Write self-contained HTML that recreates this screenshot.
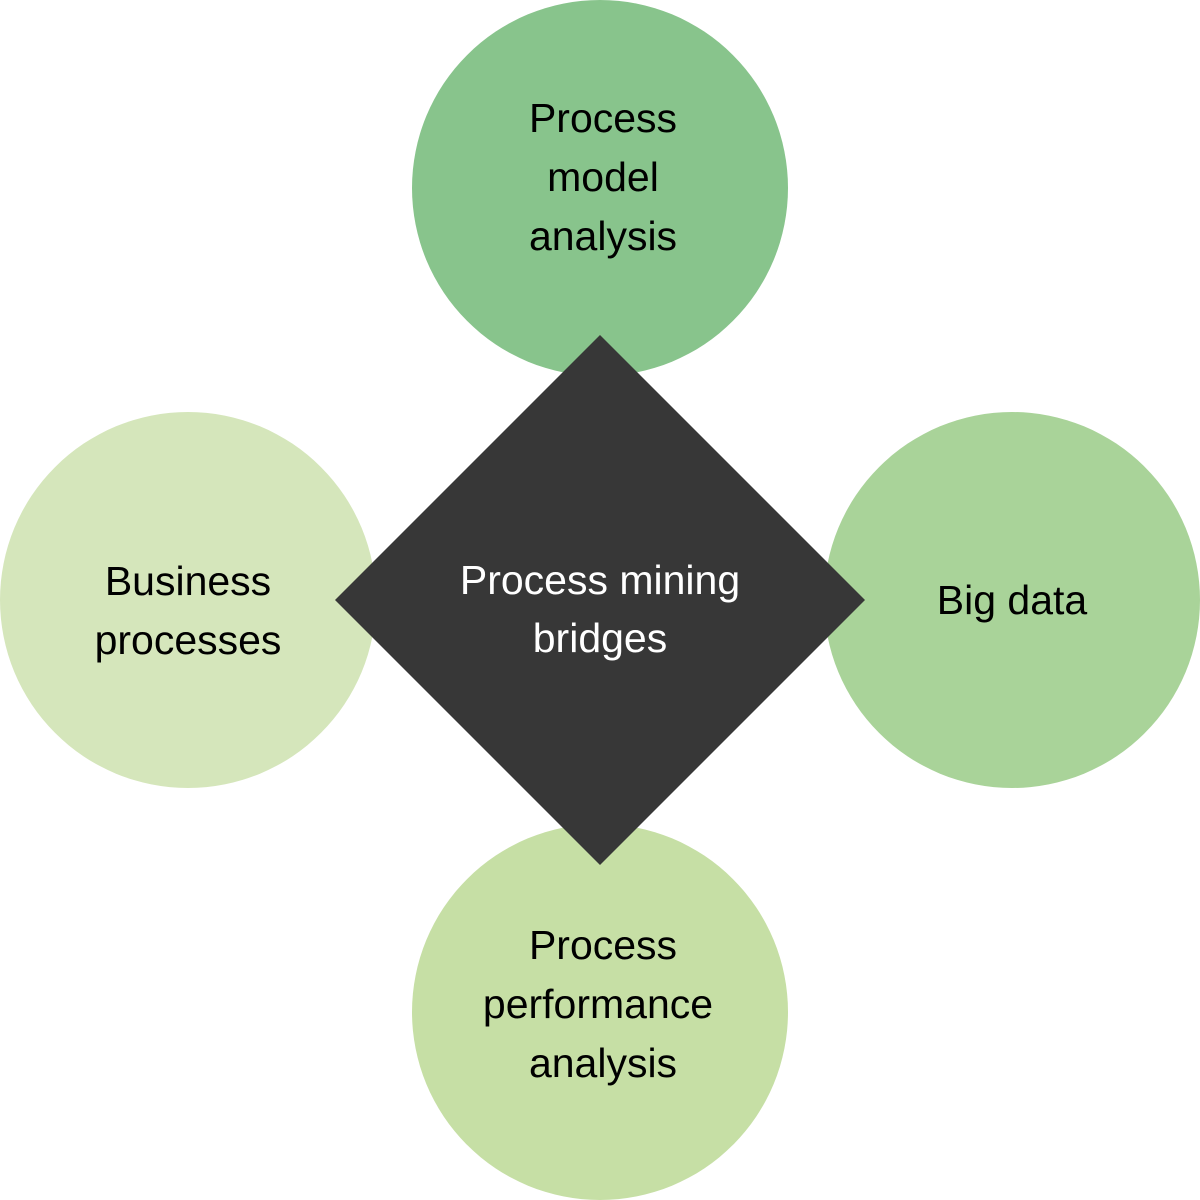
<!DOCTYPE html>
<html><head><meta charset="utf-8"><style>
html,body{margin:0;padding:0;background:#fff;}
svg{display:block;}
text{font-family:"Liberation Sans",sans-serif;font-size:41px;text-anchor:middle;}
</style></head><body>
<svg width="1200" height="1200" viewBox="0 0 1200 1200" xmlns="http://www.w3.org/2000/svg">
<circle cx="600" cy="188" r="188" fill="#88c48c"/>
<circle cx="188" cy="600" r="188" fill="#d5e6bb"/>
<circle cx="1012" cy="600" r="188" fill="#a9d399"/>
<circle cx="600" cy="1012" r="188" fill="#c6dfa5"/>
<polygon points="600,335 865,600 600,865 335,600" fill="#373737"/>
<g fill="#000">
<text x="603" y="132">Process</text>
<text x="603" y="191">model</text>
<text x="603" y="250">analysis</text>
<text x="188" y="595">Business</text>
<text x="188" y="654">processes</text>
<text x="1012" y="614">Big data</text>
<text x="603" y="959">Process</text>
<text x="598" y="1018">performance</text>
<text x="603" y="1077">analysis</text>
</g>
<g fill="#fff">
<text x="600" y="594">Process mining</text>
<text x="600" y="652">bridges</text>
</g>
</svg>
</body></html>
